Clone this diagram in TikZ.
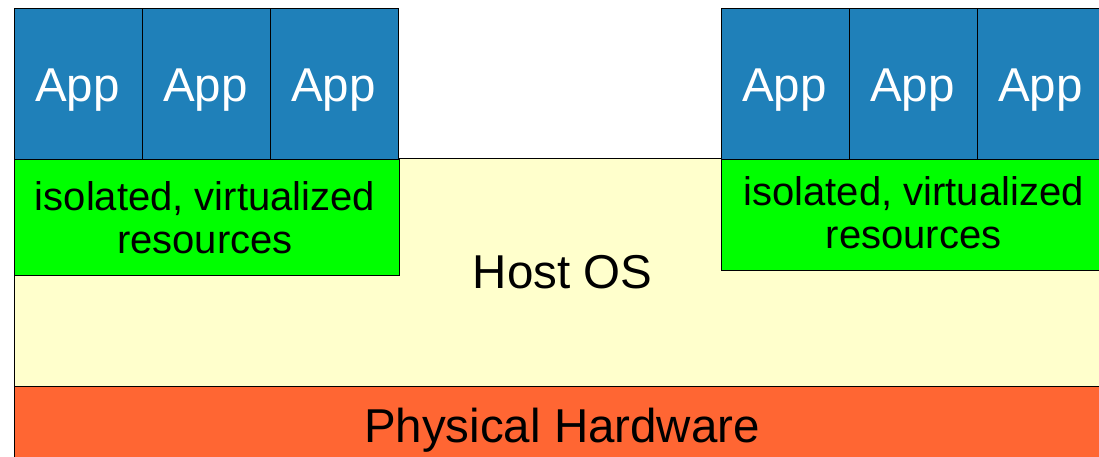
\documentclass[tikz,border=0pt]{standalone}
\usepackage{fontspec}
\setmainfont{Liberation Sans}
\definecolor{appblue}{HTML}{1F80B9}
\definecolor{resgreen}{HTML}{00FF00}
\definecolor{hostyellow}{HTML}{FFFFCC}
\definecolor{hworange}{HTML}{FF6633}
\begin{document}
\begin{tikzpicture}[x=1pt,y=-1pt,
  layer/.style={draw=black,line width=0.9pt,rectangle,inner sep=0pt,outer sep=0pt,anchor=north west},
  appbox/.style={layer,fill=appblue,minimum width=128pt,minimum height=151pt},
  apptext/.style={anchor=base,text=white,font=\fontsize{47.5}{52}\selectfont,inner sep=0pt},
  restext/.style={anchor=base,text=black,font=\fontsize{40}{44}\selectfont,inner sep=0pt},
  bigtext/.style={anchor=base,text=black,font=\fontsize{47.5}{52}\selectfont,inner sep=0pt}]
\useasboundingbox (0,0) rectangle (1099,457);
\clip (0,0) rectangle (1099,457);
% Host OS and hardware
\node[layer,fill=hostyellow,minimum width=1096pt,minimum height=228pt] (host) at (14,158) {};
\node[layer,fill=hworange,minimum width=1096pt,minimum height=90pt] (hw) at (14,386) {};
% isolated resources
\node[layer,fill=resgreen,minimum width=385pt,minimum height=116pt] (resL) at (14,159) {};
\node[layer,fill=resgreen,minimum width=384pt,minimum height=111pt] (resR) at (721,159) {};
% apps
\node[appbox] (a1) at (14,8) {};
\node[appbox] (a2) at (142,8) {};
\node[appbox] (a3) at (270,8) {};
\node[appbox] (a4) at (721,8) {};
\node[appbox] (a5) at (849,8) {};
\node[appbox] (a6) at (977,8) {};
% texts
\node[apptext] (t1) at (77.5,102) {App};
\node[apptext] (t2) at (205.5,102) {App};
\node[apptext] (t3) at (333.5,102) {App};
\node[apptext] (t4) at (784.5,102) {App};
\node[apptext] (t5) at (912.5,102) {App};
\node[apptext] (t6) at (1040.5,102) {App};
\node[restext] (rl1) at (205,210) {isolated, virtualized};
\node[restext] (rl2) at (205,253) {resources};
\node[restext] (rr1) at (913.5,205) {isolated, virtualized};
\node[restext] (rr2) at (913.5,248) {resources};
\node[bigtext] (hosttext) at (562.5,288) {Host OS};
\node[bigtext] (hwtext) at (562,442) {Physical Hardware};
\end{tikzpicture}
\end{document}
